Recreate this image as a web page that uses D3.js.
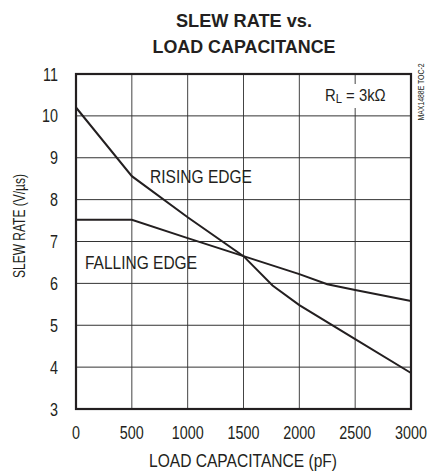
<!DOCTYPE html>
<html lang="en">
<head>
<meta charset="utf-8">
<title>Slew rate vs load capacitance</title>
<style>
  body { margin: 0; background: #fff; }
  svg text { font-family: "Liberation Sans", Arial, Helvetica, sans-serif; fill: #231f20; }
</style>
</head>
<body>
<div id="chart"></div>
<script src="https://cdn.jsdelivr.net/npm/d3@7"></script>
<script>
  // values
  var risingCap  = [0, 500, 1000, 1500, 1760, 2000, 2500, 3000];
  var risingRate = [10.2, 8.56, 7.58, 6.65, 5.95, 5.48, 4.67, 3.86];
  var fallingCap  = [0, 500, 1000, 1500, 2000, 2250, 2500, 3000];
  var fallingRate = [7.52, 7.52, 7.08, 6.65, 6.22, 5.98, 5.84, 5.58];
  var xTicks = [0, 500, 1000, 1500, 2000, 2500, 3000];
  var yTicks = [3, 4, 5, 6, 7, 8, 9, 10, 11];

  var width = 427, height = 473;
  var margin = {top: 74, right: 16, bottom: 64, left: 76};
  var narrow = 0.82;

  var svg = d3.select("#chart")
    .append("svg")
    .attr("width", width)
    .attr("height", height);

  var x = d3.scaleLinear().domain([0, 3000]).range([margin.left, width - margin.right]);
  var y = d3.scaleLinear().domain([3, 11]).range([height - margin.bottom, margin.top]);

  // squeezed text like the condensed face of the original
  function label(px, py, str, size, len, anchor) {
    return svg.append("text")
      .attr("x", px).attr("y", py)
      .attr("font-size", size)
      .attr("text-anchor", anchor || "start")
      .attr("textLength", len)
      .attr("lengthAdjust", "spacingAndGlyphs")
      .text(str);
  }

  // title
  label(244, 27, "SLEW RATE vs.", 18.5, 136, "middle").attr("font-weight", "bold");
  label(244, 53, "LOAD CAPACITANCE", 18.5, 183, "middle").attr("font-weight", "bold");

  // grid
  svg.append("g").selectAll("line").data(xTicks.slice(1, -1)).enter().append("line")
    .attr("x1", x).attr("x2", x).attr("y1", y(3)).attr("y2", y(11))
    .attr("stroke", "#444").attr("stroke-width", 1);
  svg.append("g").selectAll("line").data(yTicks.slice(1, -1)).enter().append("line")
    .attr("x1", x(0)).attr("x2", x(3000)).attr("y1", y).attr("y2", y)
    .attr("stroke", "#333").attr("stroke-width", 1);

  // R_L label with white box over the grid
  svg.append("rect").attr("x", 321).attr("y", 84).attr("width", 72).attr("height", 24).attr("fill", "#fff");
  var rl = svg.append("text")
    .attr("transform", "translate(325,101) scale(0.9,1)")
    .attr("font-size", 16.5);
  rl.append("tspan").text("R");
  rl.append("tspan").attr("font-size", 12.5).attr("dy", 2).text("L");
  rl.append("tspan").attr("dy", -2).text(" = 3k\u03a9");

  // border
  svg.append("rect")
    .attr("x", x(0)).attr("y", y(11))
    .attr("width", x(3000) - x(0)).attr("height", y(3) - y(11))
    .attr("fill", "none").attr("stroke", "#231f20").attr("stroke-width", 2.2);

  // curves
  var line = d3.line().x(function(d){ return x(d[0]); }).y(function(d){ return y(d[1]); });
  svg.append("path")
    .datum(d3.zip(risingCap, risingRate))
    .attr("d", line).attr("fill", "none").attr("stroke", "#231f20").attr("stroke-width", 2);
  svg.append("path")
    .datum(d3.zip(fallingCap, fallingRate))
    .attr("d", line).attr("fill", "none").attr("stroke", "#231f20").attr("stroke-width", 2);

  label(150, 183, "RISING EDGE", 17.5, 102);
  label(85, 269, "FALLING EDGE", 17.5, 112);

  // tick labels
  svg.append("g").selectAll("text").data(yTicks).enter().append("text")
    .attr("transform", function(d){ return "translate(58," + (y(d) + 6.5) + ") scale(" + narrow + ",1)"; })
    .attr("text-anchor", "end").attr("font-size", 17.5)
    .text(function(d){ return d; });
  svg.append("g").selectAll("text").data(xTicks).enter().append("text")
    .attr("transform", function(d){ return "translate(" + x(d) + ",439) scale(" + narrow + ",1)"; })
    .attr("text-anchor", "middle").attr("font-size", 17.5)
    .text(function(d){ return d; });

  // axis titles
  label(243, 467, "LOAD CAPACITANCE (pF)", 17.5, 188, "middle");
  svg.append("text")
    .attr("transform", "translate(25,226) rotate(-90)")
    .attr("text-anchor", "middle").attr("font-size", 17)
    .attr("textLength", 104).attr("lengthAdjust", "spacingAndGlyphs")
    .text("SLEW RATE (V/\u00b5s)");

  svg.append("text")
    .attr("transform", "translate(424,92) rotate(-90)")
    .attr("text-anchor", "middle").attr("font-size", 9)
    .attr("textLength", 57).attr("lengthAdjust", "spacingAndGlyphs")
    .attr("fill", "#444")
    .text("MAX1488E TOC-2");
</script>
</body>
</html>
